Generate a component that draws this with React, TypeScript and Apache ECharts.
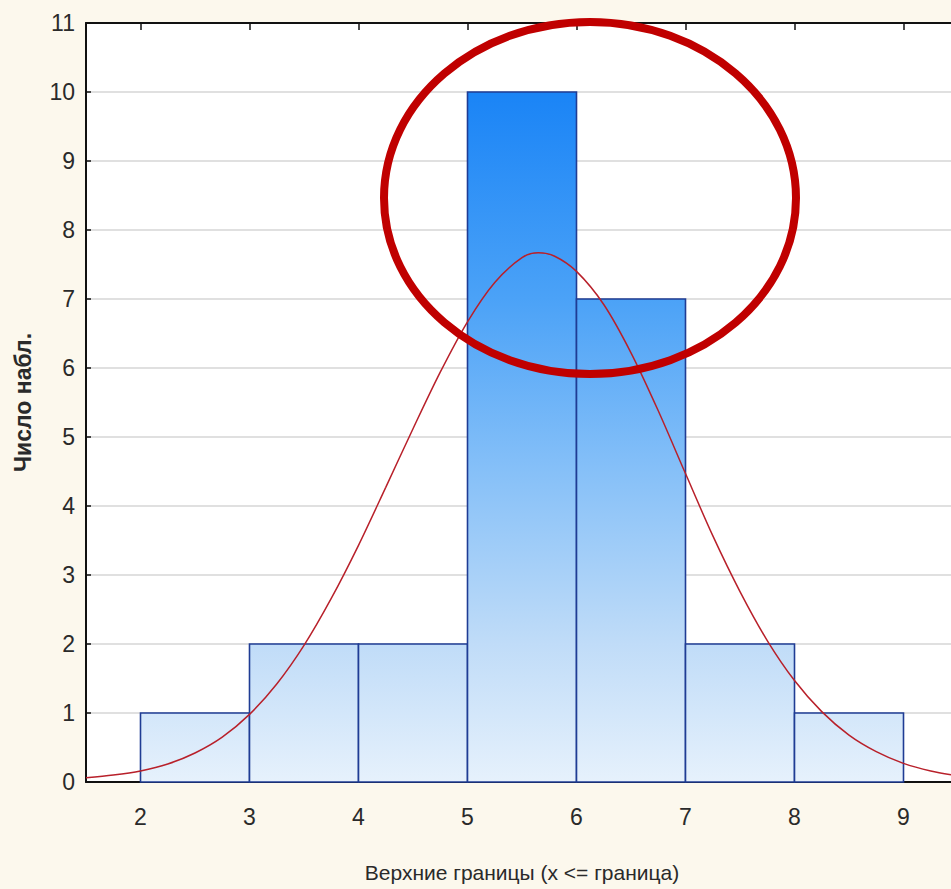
import React, { useEffect, useRef } from "react";
import * as echarts from "echarts";

// Histogram bins: lower and upper bounds of each class, and observation counts
const binLower = [2, 3, 4, 5, 6, 7, 8];
const binUpper = [3, 4, 5, 6, 7, 8, 9];
const binCounts = [1, 2, 2, 10, 7, 2, 1];

// Fitted normal curve (expected counts) sampled along the x range
const curveX = [
  1.5, 1.75, 2.0, 2.25, 2.5, 2.75, 3.0, 3.25, 3.5, 3.75, 4.0, 4.25, 4.5, 4.75,
  5.0, 5.25, 5.5, 5.65, 5.8, 6.0, 6.25, 6.5, 6.75, 7.0, 7.25, 7.5, 7.75, 8.0,
  8.25, 8.5, 8.75, 9.0, 9.25, 9.5,
];
const curveY = [
  0.06, 0.1, 0.16, 0.26, 0.42, 0.65, 0.98, 1.42, 1.98, 2.66, 3.43, 4.27, 5.12,
  5.94, 6.67, 7.24, 7.6, 7.67, 7.62, 7.4, 6.92, 6.22, 5.38, 4.47, 3.57, 2.76,
  2.05, 1.47, 1.02, 0.68, 0.44, 0.27, 0.16, 0.09,
];

const yRange = [0, 11];
const xRange = [1.5, 9.5];

const xName = "Верхние границы (x <= граница)";
const yName = "Число набл.";

const FONT = "'Liberation Sans', Arial, Helvetica, sans-serif";

export default function App() {
  const ref = useRef<HTMLDivElement>(null);

  useEffect(() => {
    if (!ref.current) return;
    const chart = echarts.init(ref.current, undefined, { renderer: "svg" });

    const barData = binLower.map((lo, i) => [lo, binUpper[i], binCounts[i]]);
    const lineData = curveX.map((x, i) => [x, curveY[i]]);
    const maxCount = Math.max(...binCounts);
    const intLabel = (v: number) => (Number.isInteger(v) ? String(v) : "");

    chart.setOption({
      animation: false,
      backgroundColor: "#fcf8ed",
      textStyle: { fontFamily: FONT },
      grid: {
        left: 86,
        top: 23,
        width: 872,
        height: 759,
        show: true,
        backgroundColor: "#ffffff",
        borderWidth: 0,
        outerBoundsMode: "none",
        containLabel: false,
      },
      xAxis: [
        {
          type: "value",
          min: xRange[0],
          max: xRange[1],
          splitNumber: 8,
          maxInterval: 1,
          position: "bottom",
          name: xName,
          nameLocation: "middle",
          nameGap: 80,
          nameTextStyle: { fontSize: 21, color: "#2a2a2a", fontFamily: FONT },
          axisLine: { show: true, lineStyle: { color: "#111", width: 2 } },
          axisTick: { show: false },
          splitLine: { show: false },
          axisLabel: {
            margin: 23,
            fontSize: 23,
            color: "#2a2a2a",
            fontFamily: FONT,
            formatter: intLabel,
          },
        },
        {
          type: "value",
          min: xRange[0],
          max: xRange[1],
          splitNumber: 8,
          maxInterval: 1,
          position: "top",
          axisLine: { show: true, lineStyle: { color: "#111", width: 2 } },
          axisTick: {
            show: true,
            inside: true,
            length: 7,
            lineStyle: { color: "#111", width: 1.5 },
          },
          axisLabel: { show: false },
          splitLine: { show: false },
        },
      ],
      yAxis: {
        type: "value",
        min: yRange[0],
        max: yRange[1],
        interval: 1,
        name: yName,
        nameLocation: "middle",
        nameGap: 52,
        nameTextStyle: {
          fontSize: 23,
          fontWeight: "bold",
          color: "#2a2a2a",
          fontFamily: FONT,
        },
        axisLine: { show: true, lineStyle: { color: "#111", width: 2 } },
        axisTick: {
          show: true,
          inside: true,
          length: 5,
          lineStyle: { color: "#111", width: 1.5 },
        },
        axisLabel: {
          margin: 11,
          fontSize: 23,
          color: "#2a2a2a",
          fontFamily: FONT,
        },
        splitLine: { show: true, lineStyle: { color: "#d6d6d6", width: 1.6 } },
      },
      series: [
        {
          type: "custom",
          xAxisIndex: 0,
          yAxisIndex: 0,
          encode: { x: [0, 1], y: 2 },
          data: barData,
          z: 2,
          renderItem: (params: any, api: any) => {
            const lo = api.value(0);
            const hi = api.value(1);
            const v = api.value(2);
            const p0 = api.coord([lo, 0]);
            const p1 = api.coord([hi, v]);
            const gTop = api.coord([lo, maxCount])[1];
            const gBottom = p0[1];
            const fill = new echarts.graphic.LinearGradient(
              0,
              gTop,
              0,
              gBottom,
              [
                { offset: 0, color: "#1a84f6" },
                { offset: 0.3, color: "#4ba2f7" },
                { offset: 0.55, color: "#86c0f8" },
                { offset: 0.8, color: "#c0dcf8" },
                { offset: 1, color: "#e6f1fc" },
              ],
              true
            );
            return {
              type: "rect",
              shape: {
                x: p0[0],
                y: p1[1],
                width: p1[0] - p0[0],
                height: p0[1] - p1[1],
              },
              style: { fill, stroke: "#1f3c94", lineWidth: 1.6 },
            };
          },
        },
        {
          type: "line",
          xAxisIndex: 0,
          yAxisIndex: 0,
          data: lineData,
          smooth: 0.3,
          showSymbol: false,
          z: 3,
          lineStyle: { color: "#b8202a", width: 1.5 },
        },
      ],
      graphic: [
        {
          type: "ellipse",
          z: 100,
          shape: { cx: 590, cy: 198, rx: 206, ry: 176 },
          style: { fill: "none", stroke: "#c00000", lineWidth: 8 },
        },
      ],
    });

    return () => chart.dispose();
  }, []);

  return (
    <div
      ref={ref}
      style={{ position: "absolute", left: 0, top: 0, width: 951, height: 889 }}
    />
  );
}
